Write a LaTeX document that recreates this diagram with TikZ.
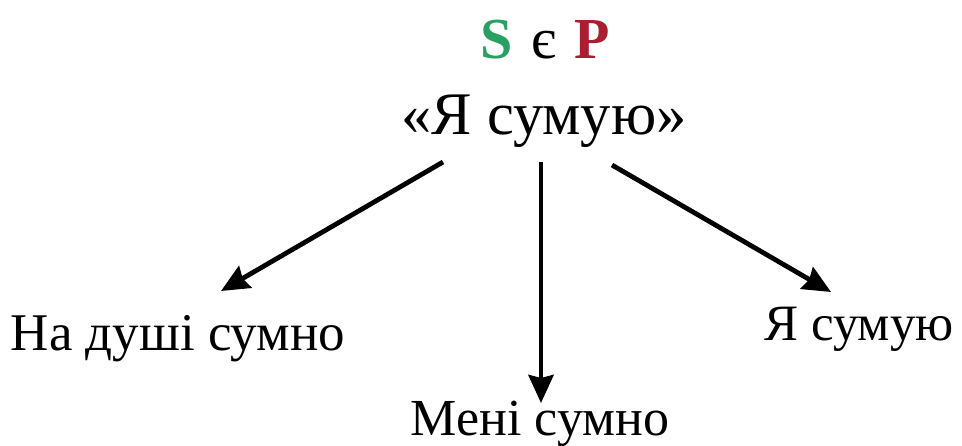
\documentclass[tikz,border=0pt]{standalone}
\usepackage{fontspec}
\setmainfont{Liberation Serif}
\usetikzlibrary{arrows.meta}
\definecolor{sgreen}{RGB}{40,160,100}
\definecolor{pred}{RGB}{170,30,50}
\tikzset{
  lbl/.style={inner sep=0pt, anchor=base, font=\fontsize{53}{60}\selectfont},
  arr/.style={line width=4.8pt, -{Stealth[length=28pt,width=25pt,inset=3pt]}}
}
\begin{document}
\begin{tikzpicture}[x=1pt,y=-1pt]
  \useasboundingbox (0,0) rectangle (962,445);
  % heading and the statement
  \node[lbl, font=\fontsize{58}{64}\selectfont\bfseries] (sp) at (545,58)
    {\textcolor{sgreen}{S}\hspace{5pt} \textmd{є}\hspace{3pt} \textcolor{pred}{P}};
  \node[lbl, font=\fontsize{60.5}{66}\selectfont] (main) at (544,134) {«Я сумую»};
  % three readings
  \node[lbl] (left) at (178,350) {На душі сумно};
  \node[lbl, font=\fontsize{52}{58}\selectfont] (mid) at (540,435) {Мені сумно};
  \node[lbl, font=\fontsize{51}{58}\selectfont] (right) at (859,340) {Я сумую};
  % arrow ends
  \coordinate (sl) at (443,162);
  \coordinate (sm) at (541,162);
  \coordinate (sr) at (612,165);
  \coordinate (tl) at (221,291);
  \coordinate (tm) at (541,403);
  \coordinate (tr) at (831,292);
  \draw[arr] (sl) -- (tl);
  \draw[arr] (sm) -- (tm);
  \draw[arr] (sr) -- (tr);
\end{tikzpicture}
\end{document}
